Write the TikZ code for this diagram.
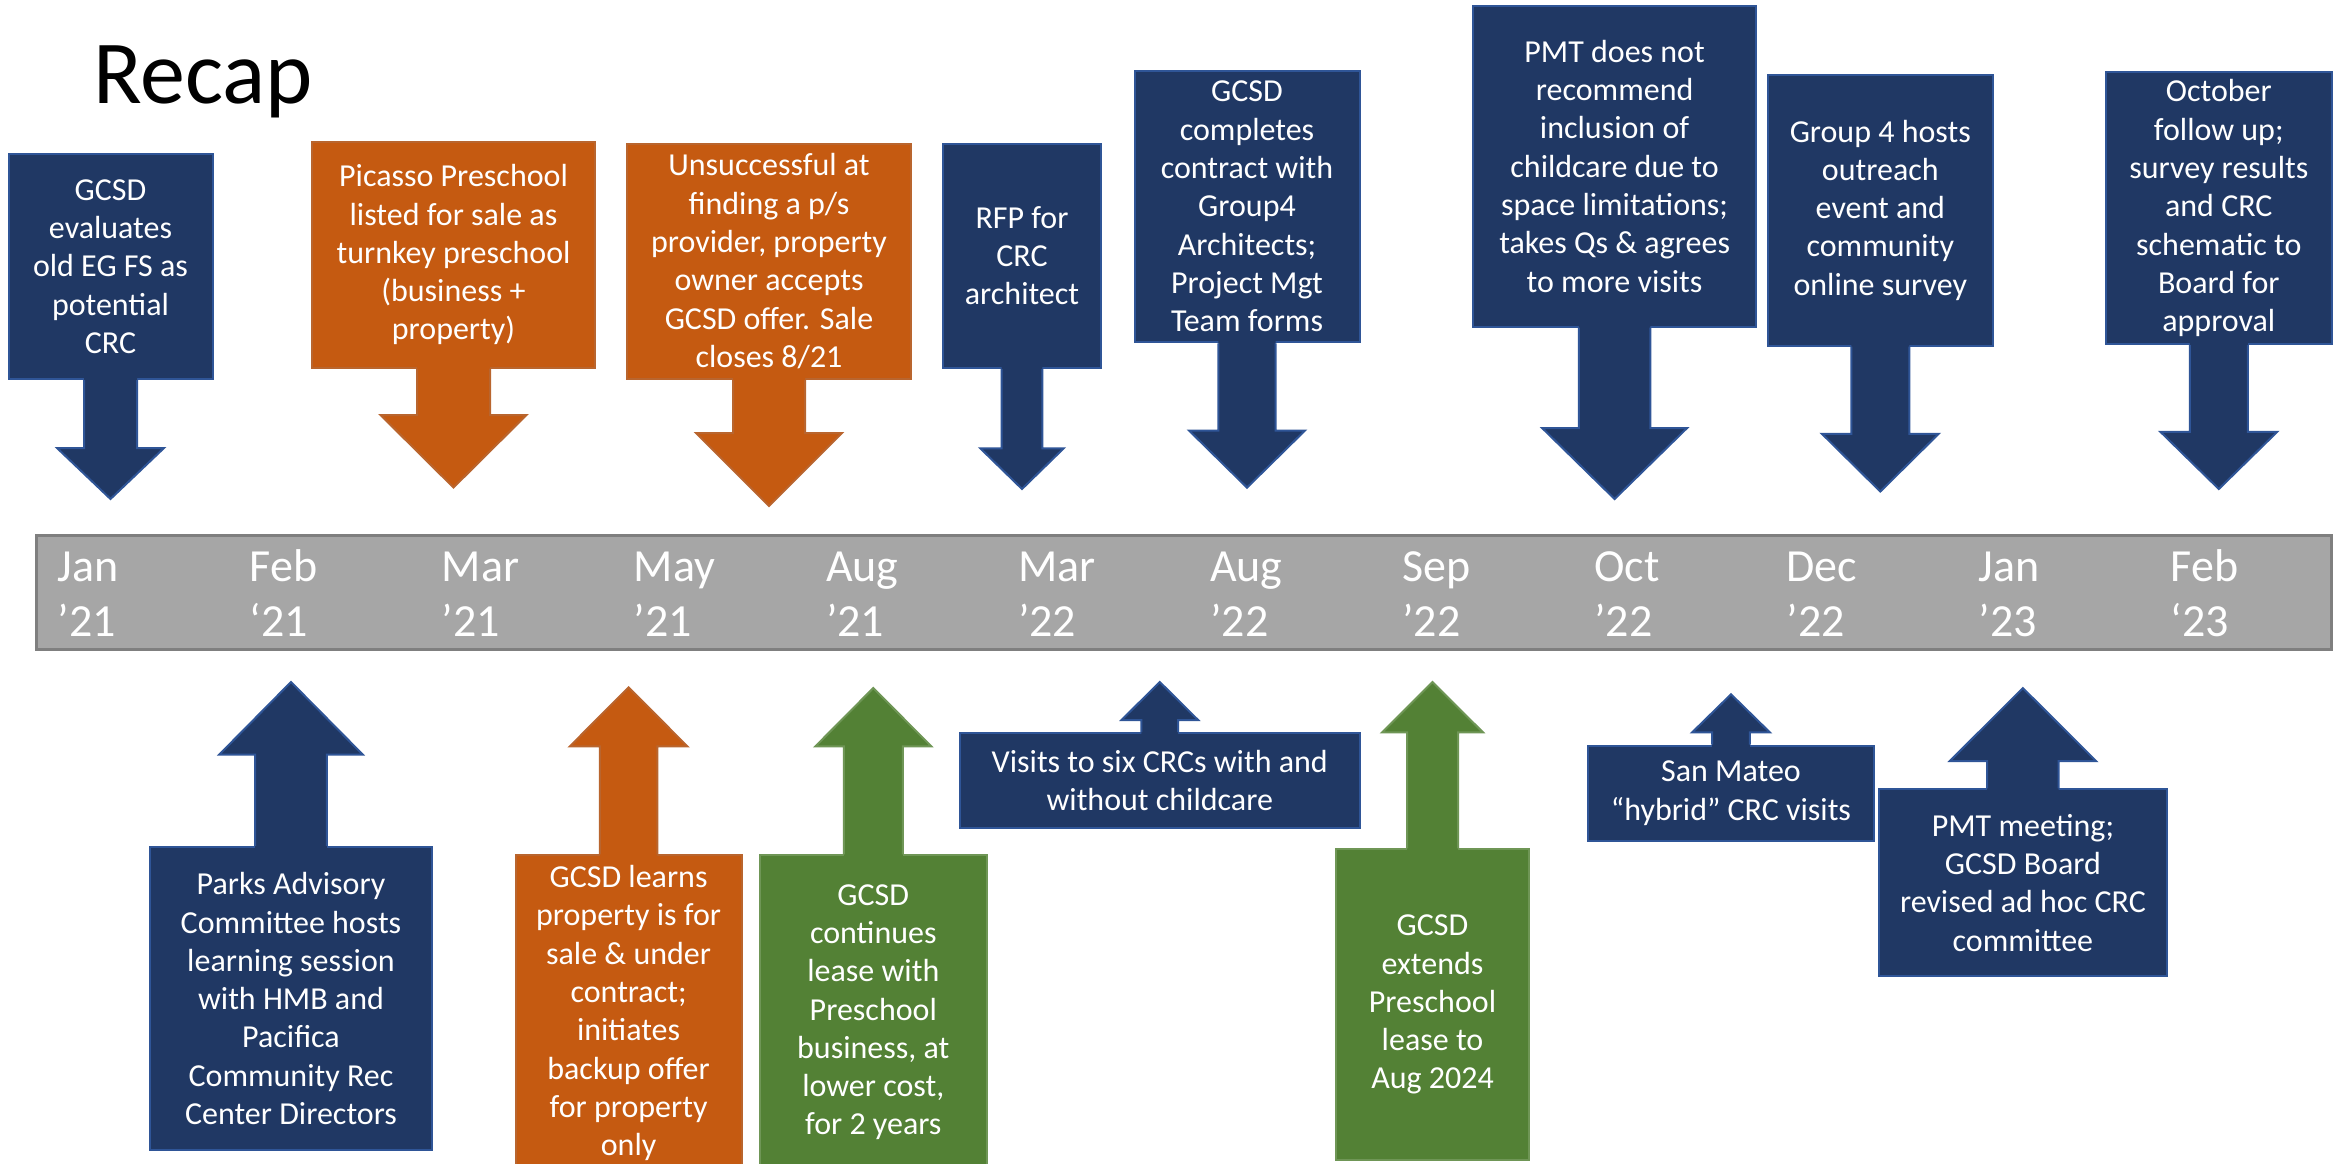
\documentclass[tikz,border=0pt]{standalone}
\usepackage{fontspec}
\setmainfont{Carlito}
\usetikzlibrary{calc}

\definecolor{navy}{HTML}{203864}
\definecolor{navyline}{HTML}{2F5597}
\definecolor{rust}{HTML}{C55A11}
\definecolor{rustline}{HTML}{B9652E}
\definecolor{leaf}{HTML}{538135}
\definecolor{leafline}{HTML}{6F9656}
\definecolor{barfill}{HTML}{A6A6A6}
\definecolor{barline}{HTML}{7F7F7F}

% arrow under a box: node, colour, shaft half width, head half width, head base y, tip y
\newcommand{\calldown}[6]{%
  \coordinate (#1-h) at (#1.south |- 0,#5);
  \coordinate (#1-t) at (#1.south |- 0,#6);
  \fill[#2] ([shift={(-#3,-3)}]#1.south) -- ([xshift=-#3pt]#1-h) -- ([xshift=-#4pt]#1-h)
    -- (#1-t) -- ([xshift=#4pt]#1-h) -- ([xshift=#3pt]#1-h) -- ([shift={(#3,-3)}]#1.south) -- cycle;
  \draw[#2line, line width=2pt] ([xshift=-#3pt]#1.south) -- ([xshift=-#3pt]#1-h) -- ([xshift=-#4pt]#1-h)
    -- (#1-t) -- ([xshift=#4pt]#1-h) -- ([xshift=#3pt]#1-h) -- ([xshift=#3pt]#1.south);
}
% same, arrow above a box
\newcommand{\callup}[6]{%
  \coordinate (#1-h) at (#1.north |- 0,#5);
  \coordinate (#1-t) at (#1.north |- 0,#6);
  \fill[#2] ([shift={(-#3,3)}]#1.north) -- ([xshift=-#3pt]#1-h) -- ([xshift=-#4pt]#1-h)
    -- (#1-t) -- ([xshift=#4pt]#1-h) -- ([xshift=#3pt]#1-h) -- ([shift={(#3,3)}]#1.north) -- cycle;
  \draw[#2line, line width=2pt] ([xshift=-#3pt]#1.north) -- ([xshift=-#3pt]#1-h) -- ([xshift=-#4pt]#1-h)
    -- (#1-t) -- ([xshift=#4pt]#1-h) -- ([xshift=#3pt]#1-h) -- ([xshift=#3pt]#1.north);
}

\begin{document}
\begin{tikzpicture}[x=1pt, y=-1pt,
    evt/.style={rectangle, inner sep=2pt, align=center, text=white, line width=2pt,
                font=\fontsize{32}{38.3}\selectfont},
    nbox/.style={evt, fill=navy, draw=navyline},
    obox/.style={evt, fill=rust, draw=rustline},
    gbox/.style={evt, fill=leaf, draw=leafline},
    month/.style={anchor=base west, inner sep=0pt, align=left, text=white,
                  font=\fontsize{46}{55}\selectfont}
  ]
  \useasboundingbox (0,0) rectangle (2346,1163);

  % Title
  \node[anchor=base west, inner sep=0pt, font=\fontsize{90}{108}\selectfont] (title) at (93,103.5) {Recap};

  % Timeline bar
  \node[draw=barline, fill=barfill, line width=3pt, inner sep=0pt,
        minimum width=2295, minimum height=114] (bar) at (1184.4,592) {};
  \foreach \mon/\yr [count=\i from 0] in {Jan/’21, Feb/‘21, Mar/’21, May/’21, Aug/’21, Mar/’22,
                                           Aug/’22, Sep/’22, Oct/’22, Dec/’22, Jan/’23, Feb/‘23}
    \node[month] (m\i) at (57.4+192.1*\i,636) {\mon\\\yr};

  % Events above the bar
  \node[nbox, minimum width=204, minimum height=225] (e1) at (110.5,266.5)
    {GCSD\\evaluates\\old EG FS as\\potential\\CRC};
  \node[obox, minimum width=283, minimum height=225.5] (e2) at (453.5,254.8)
    {Picasso Preschool\\listed for sale as\\turnkey preschool\\(business +\\property)};
  \node[obox, minimum width=284, minimum height=235.4] (e3) at (769,261.3)
    {Unsuccessful at\\finding a p/s\\provider, property\\owner accepts\\GCSD offer. Sale\\closes 8/21};
  \node[nbox, minimum width=158, minimum height=224.4] (e4) at (1022,255.8)
    {RFP for\\CRC\\architect};
  \node[nbox, minimum width=225, minimum height=271.7] (e5) at (1247,206.5)
    {GCSD\\completes\\contract with\\Group4\\Architects;\\Project Mgt\\Team forms};
  \node[nbox, minimum width=283, minimum height=321] (e6) at (1614.6,166.2)
    {PMT does not\\recommend\\inclusion of\\childcare due to\\space limitations;\\takes Qs \& agrees\\to more visits};
  \node[nbox, minimum width=224.5, minimum height=271] (e7) at (1880.3,210.1)
    {Group 4 hosts\\outreach\\event and\\community\\online survey};
  \node[nbox, minimum width=225.5, minimum height=271.7] (e8) at (2218.8,208.2)
    {October\\follow up;\\survey results\\and CRC\\schematic to\\Board for\\approval};

  \calldown{e1}{navy}{26.5}{53.5}{448}{499}
  \calldown{e2}{rust}{36.5}{73}{415}{487.5}
  \calldown{e3}{rust}{36}{73}{433}{506}
  \calldown{e4}{navy}{20.4}{41.6}{448.4}{489}
  \calldown{e5}{navy}{28.6}{58}{430.5}{487.6}
  \calldown{e6}{navy}{35.7}{72.5}{428}{499}
  \calldown{e7}{navy}{29}{58.4}{433.8}{491.5}
  \calldown{e8}{navy}{29}{58.4}{431.8}{489}

  % Events below the bar
  \node[nbox, minimum width=281.3, minimum height=303.5] (f1) at (291,998.6)
    {Parks Advisory\\Committee hosts\\learning session\\with HMB and\\Pacifica\\Community Rec\\Center Directors};
  \node[obox, minimum width=226.2, minimum height=315.6] (f2) at (628.6,1013.2)
    {GCSD learns\\property is for\\sale \& under\\contract;\\initiates\\backup offer\\for property\\only};
  \node[gbox, minimum width=227.5, minimum height=313.6] (f3) at (873.3,1012.2)
    {GCSD\\continues\\lease with\\Preschool\\business, at\\lower cost,\\for 2 years};
  \node[nbox, minimum width=399.6, minimum height=95.2] (f4) at (1159.8,780.8)
    {Visits to six CRCs with and\\without childcare};
  \node[gbox, minimum width=193.9, minimum height=310.7] (f5) at (1432.5,1004.7)
    {GCSD\\extends\\Preschool\\lease to\\Aug 2024};
  \node[nbox, minimum width=286.7, minimum height=95.2] (f6) at (1731,793.1)
    {San Mateo\\“hybrid” CRC visits};
  \node[nbox, minimum width=287.2, minimum height=186.6] (f7) at (2022.9,882.7)
    {PMT meeting;\\GCSD Board\\revised ad hoc CRC\\committee};

  \callup{f1}{navy}{35.8}{71.8}{754.6}{682}
  \callup{f2}{rust}{28.7}{58.8}{746.4}{687.3}
  \callup{f3}{leaf}{29.5}{58}{746.4}{688}
  \callup{f4}{navy}{18.4}{38.3}{720}{682}
  \callup{f5}{leaf}{25.5}{50.5}{732.4}{682}
  \callup{f6}{navy}{18.8}{38.9}{732.4}{694.3}
  \callup{f7}{navy}{35.8}{73.2}{761.1}{688.1}
\end{tikzpicture}
\end{document}
